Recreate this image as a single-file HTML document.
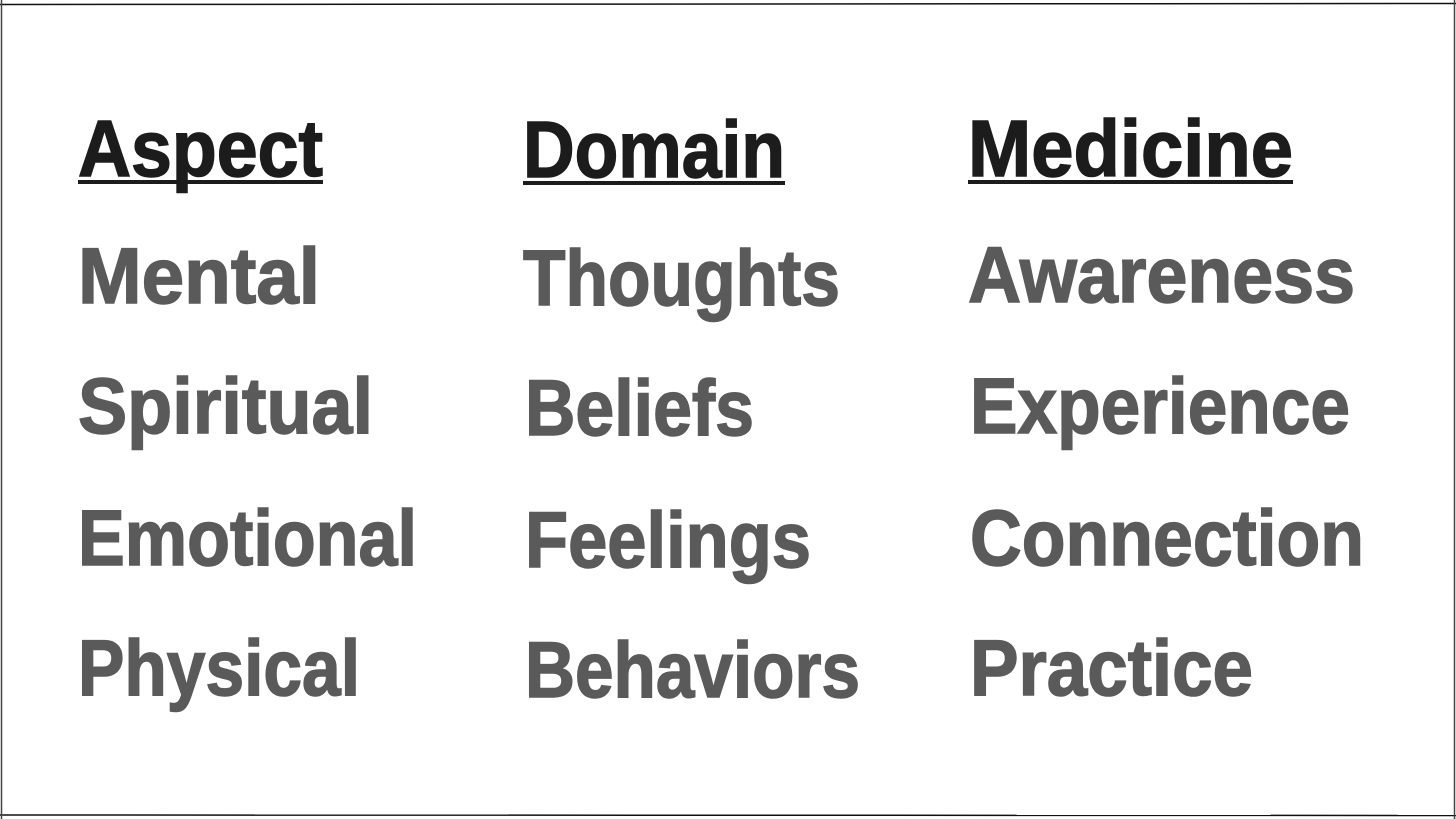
<!DOCTYPE html>
<html><head><meta charset="utf-8"><style>
html,body{margin:0;padding:0;background:#fff;}
svg{display:block;}
text{font-family:"Liberation Sans",sans-serif;font-weight:bold;}
</style></head><body>
<svg width="1456" height="819" viewBox="0 0 1456 819" xmlns="http://www.w3.org/2000/svg">
<rect x="0" y="0" width="1456" height="819" fill="#fff"/>
<line x1="0" y1="4.5" x2="1456" y2="3.5" stroke="#111" stroke-width="1.5"/>
<line x1="0" y1="815" x2="1456" y2="815.5" stroke="#111" stroke-width="1.5"/>
<line x1="1.5" y1="0" x2="1.5" y2="819" stroke="#444" stroke-width="1.5"/>
<line x1="1454.5" y1="0" x2="1454.5" y2="819" stroke="#444" stroke-width="1.5"/>
<g fill="#1c1c1c" stroke="#1c1c1c" stroke-width="1.5" font-size="80">
<text x="78" y="176" textLength="245" lengthAdjust="spacingAndGlyphs">Aspect</text>
<text x="523" y="177" textLength="262" lengthAdjust="spacingAndGlyphs">Domain</text>
<text x="968" y="176" textLength="325" lengthAdjust="spacingAndGlyphs">Medicine</text>
</g>
<g fill="#1c1c1c">
<rect x="78" y="180" width="245" height="4"/>
<rect x="523" y="181" width="262" height="4"/>
<rect x="968" y="180" width="325" height="4"/>
</g>
<g fill="#5a5a5a" stroke="#5a5a5a" stroke-width="1.5" font-size="79">
<text x="78" y="303" textLength="242" lengthAdjust="spacingAndGlyphs">Mental</text>
<text x="523" y="305" textLength="317" lengthAdjust="spacingAndGlyphs">Thoughts</text>
<text x="968" y="302" textLength="387" lengthAdjust="spacingAndGlyphs">Awareness</text>
<text x="78" y="433" textLength="295" lengthAdjust="spacingAndGlyphs">Spiritual</text>
<text x="525" y="435" textLength="229" lengthAdjust="spacingAndGlyphs">Beliefs</text>
<text x="970" y="433" textLength="380" lengthAdjust="spacingAndGlyphs">Experience</text>
<text x="78" y="565" textLength="339" lengthAdjust="spacingAndGlyphs">Emotional</text>
<text x="525" y="567" textLength="286" lengthAdjust="spacingAndGlyphs">Feelings</text>
<text x="970" y="565" textLength="394" lengthAdjust="spacingAndGlyphs">Connection</text>
<text x="78" y="695" textLength="282" lengthAdjust="spacingAndGlyphs">Physical</text>
<text x="525" y="697" textLength="335" lengthAdjust="spacingAndGlyphs">Behaviors</text>
<text x="970" y="695" textLength="283" lengthAdjust="spacingAndGlyphs">Practice</text>
</g>
</svg>
</body></html>
